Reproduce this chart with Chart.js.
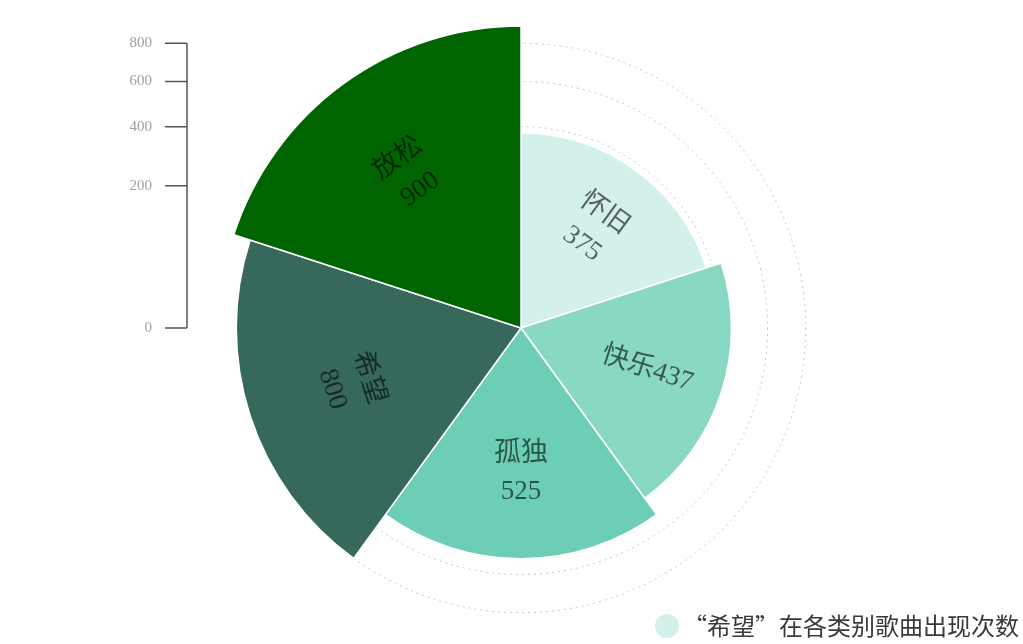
<!DOCTYPE html>
<html lang="zh-CN">
<head>
<meta charset="utf-8">
<title>“希望”在各类别歌曲出现次数</title>
<script src="https://cdn.jsdelivr.net/npm/chart.js@4/dist/chart.umd.min.js"></script>
<style>
  html, body { margin: 0; padding: 0; background: #fff; }
  #wrap { width: 1023px; height: 644px; }
</style>
</head>
<body>
<div id="wrap"><canvas id="rose" width="1023" height="644"></canvas></div>
<script>
// 数据
const categories = ['怀旧', '快乐', '孤独', '希望', '放松'];
const counts = [375, 437, 525, 800, 900];
const axisTicks = [0, 200, 400, 600, 800];
const seriesName = '“希望”在各类别歌曲出现次数';

// 样式
const sliceColors = ['#d3f0eb', '#88d8c3', '#6ccfb5', '#36685c', '#006400'];
const labelRotation = [36, 18, 0, 72, -36];
const inlineLabel = [false, true, false, false, false];

// 半径按平方根映射的径向刻度
class SqrtRadialScale extends Chart.RadialLinearScale {
    getDistanceFromCenterForValue(value) {
        if (value === null || value === undefined) return NaN;
        const span = this.max - this.min;
        return this.drawingArea * Math.sqrt(Math.max(0, value - this.min) / span);
    }
}
SqrtRadialScale.id = 'sqrtRadial';
SqrtRadialScale.defaults = Chart.RadialLinearScale.defaults;
Chart.register(SqrtRadialScale);

// 扇区内文字
const sliceLabels = {
    id: 'sliceLabels',
    afterDatasetsDraw(chart) {
        const ctx = chart.ctx;
        const arcs = chart.getDatasetMeta(0).data;
        arcs.forEach((arc, i) => {
            const p = arc.getProps(['x', 'y', 'startAngle', 'endAngle', 'outerRadius'], true);
            const mid = (p.startAngle + p.endAngle) / 2;
            const r = p.outerRadius * 0.63;
            ctx.save();
            ctx.translate(p.x + Math.cos(mid) * r, p.y + Math.sin(mid) * r);
            ctx.rotate(labelRotation[i] * Math.PI / 180);
            ctx.fillStyle = 'rgba(0,0,0,0.6)';
            ctx.font = '27px "Liberation Serif", "Noto Sans CJK SC"';
            ctx.textAlign = 'center';
            ctx.textBaseline = 'middle';
            const lines = inlineLabel[i]
                ? [categories[i] + counts[i]]
                : [categories[i], String(counts[i])];
            lines.forEach((t, k) => {
                ctx.fillText(t, 0, (k - (lines.length - 1) / 2) * 38);
            });
            ctx.restore();
        });
    }
};

// 左侧竖直刻度轴
const sideAxis = {
    id: 'sideAxis',
    afterDraw(chart) {
        const ctx = chart.ctx;
        const scale = chart.scales.r;
        const axisX = 187;
        const yOf = v => scale.yCenter - scale.getDistanceFromCenterForValue(v);
        ctx.save();
        ctx.strokeStyle = '#555';
        ctx.lineWidth = 1.5;
        ctx.beginPath();
        ctx.moveTo(axisX, yOf(axisTicks[axisTicks.length - 1]));
        ctx.lineTo(axisX, yOf(0));
        axisTicks.forEach(v => {
            ctx.moveTo(165, yOf(v));
            ctx.lineTo(axisX, yOf(v));
        });
        ctx.stroke();
        ctx.fillStyle = '#a0a0a0';
        ctx.font = '15px "Liberation Serif"';
        ctx.textAlign = 'right';
        ctx.textBaseline = 'middle';
        axisTicks.forEach(v => ctx.fillText(String(v), 152, yOf(v)));
        ctx.restore();
    }
};

// 右下角图例
const cornerLegend = {
    id: 'cornerLegend',
    afterDraw(chart) {
        const ctx = chart.ctx;
        ctx.save();
        ctx.fillStyle = sliceColors[0];
        ctx.beginPath();
        ctx.arc(667, 626, 12, 0, Math.PI * 2);
        ctx.fill();
        ctx.fillStyle = '#3a3a3a';
        ctx.font = '24px "Noto Sans CJK SC"';
        ctx.textAlign = 'left';
        ctx.textBaseline = 'middle';
        ctx.fillText(seriesName, 683, 626);
        ctx.restore();
    }
};

const chart = new Chart(document.getElementById('rose'), {
    type: 'polarArea',
    data: {
        labels: categories,
        datasets: [{
            label: seriesName,
            data: counts,
            backgroundColor: sliceColors,
            borderColor: '#fff',
            borderWidth: 1.5
        }]
    },
    options: {
        responsive: false,
        animation: false,
        layout: { padding: { top: 26, bottom: 14, left: 219, right: 200 } },
        scales: {
            r: {
                type: 'sqrtRadial',
                min: 0,
                max: 900,
                startAngle: 0,
                afterBuildTicks: scale => {
                    scale.ticks = axisTicks.map(v => ({ value: v }));
                },
                ticks: { display: false },
                pointLabels: { display: false },
                angleLines: { display: false },
                grid: { circular: true, color: '#c4c4c4', lineWidth: 1 },
                border: { dash: [2, 4] }
            }
        },
        plugins: {
            legend: { display: false },
            tooltip: { enabled: false }
        }
    },
    plugins: [sliceLabels, sideAxis, cornerLegend]
});
</script>
</body>
</html>
